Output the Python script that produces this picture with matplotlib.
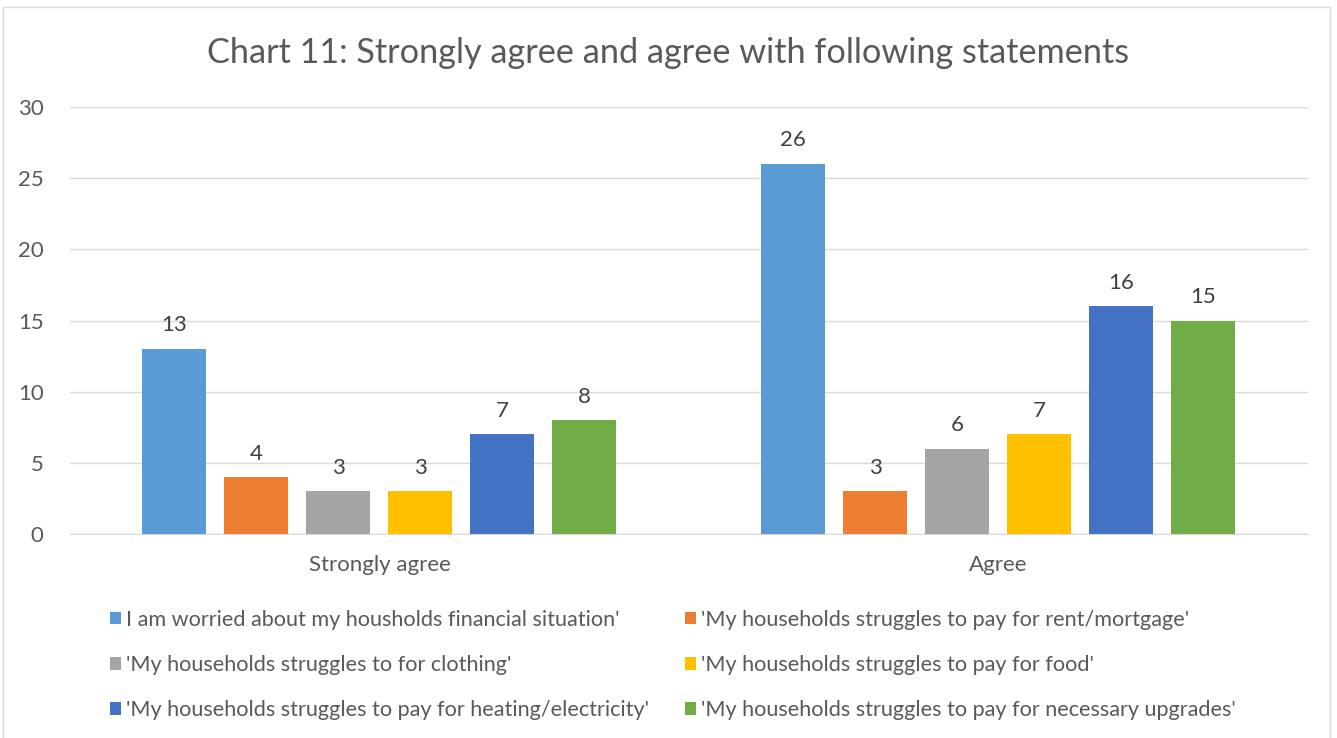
import matplotlib
matplotlib.use('Agg')
import matplotlib.pyplot as plt
import matplotlib.patches as patches
import numpy as np

plt.rcParams['font.family'] = ['Lato', 'DejaVu Sans']

# data
categories = ['Strongly agree', 'Agree']
series_names = [
    "I am worried about my housholds financial situation'",
    "'My households struggles to pay for rent/mortgage'",
    "'My households struggles to for clothing'",
    "'My households struggles to pay for food'",
    "'My households struggles to pay for heating/electricity'",
    "'My households struggles to pay for necessary upgrades'",
]
values = [
    [13, 26],
    [4, 3],
    [3, 6],
    [3, 7],
    [7, 16],
    [8, 15],
]
colors = ['#5B9BD5', '#ED7D31', '#A5A5A5', '#FFC000', '#4472C4', '#70AD47']
yticks = [0, 5, 10, 15, 20, 25, 30]

txt = '#595959'
fig = plt.figure(figsize=(13.37, 7.38), dpi=100)
ax = fig.add_axes([0.0524, 0.2764, 0.9256, 0.5786])

# chart border
fig.patches.append(patches.Rectangle((3 / 1337, -0.01), 1327 / 1337, 1 - 7 / 738 + 0.01,
                                     transform=fig.transFigure, fill=False,
                                     edgecolor='#D9D9D9', linewidth=1))

x = np.arange(len(categories))
bar_w = 0.1034
step = 0.1325
handles = []
for i, (name, vals) in enumerate(zip(series_names, values)):
    pos = x + (i - 2.5) * step
    b = ax.bar(pos, vals, width=bar_w, color=colors[i], label=name, zorder=3)
    handles.append(b)
    for px, v in zip(pos, vals):
        ax.text(px, v + 0.95, str(v), ha='center', va='bottom', fontsize=16, color='#404040')

ax.set_xlim(-0.5, 1.5)
ax.set_ylim(0, 30)
ax.set_yticks(yticks)
ax.set_xticks(x)
ax.set_xticklabels(categories)
ax.tick_params(axis='both', length=0, labelsize=16, colors=txt)
ax.tick_params(axis='x', pad=15)
ax.tick_params(axis='y', pad=19)
ax.grid(axis='y', color='#D9D9D9', linewidth=1, zorder=0)
for s in ['top', 'right', 'left']:
    ax.spines[s].set_visible(False)
ax.spines['bottom'].set_color('#D9D9D9')

fig.text(0.5, 0.928, 'Chart 11: Strongly agree and agree with following statements',
         ha='center', va='center', fontsize=24.7, color=txt)

order = [0, 2, 4, 1, 3, 5]
leg = fig.legend([handles[k] for k in order], [series_names[k] for k in order],
                 ncol=2, loc='upper left', bbox_to_anchor=(0.068, 0.2), frameon=False,
                 fontsize=15.6, handlelength=0.5, handleheight=0.5, handletextpad=0.2,
                 columnspacing=1.7, labelspacing=1.16, labelcolor=txt)

fig.savefig('out.png', dpi=100)
